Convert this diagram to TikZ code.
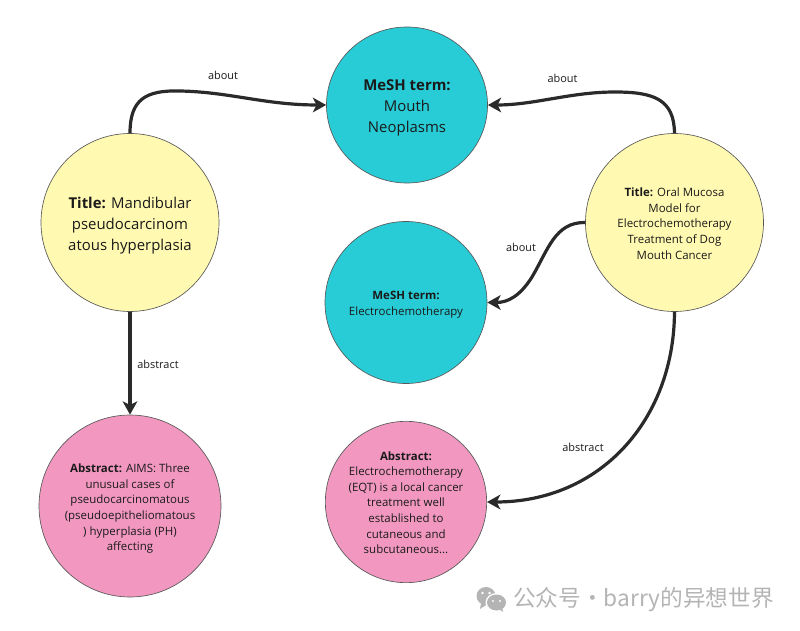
\documentclass[tikz,border=0pt]{standalone}
\usepackage{fontspec}
\setmainfont{Open Sans}
\newfontfamily\cjk{Noto Sans CJK SC}
\usetikzlibrary{arrows.meta,shapes.geometric}
\definecolor{ylw}{HTML}{FFF9B1}
\definecolor{cyn}{HTML}{28CCD6}
\definecolor{pnk}{HTML}{F298C0}
\definecolor{edge}{HTML}{2A2A2A}
\definecolor{ink}{HTML}{1A1A1A}
\definecolor{wm}{HTML}{B4B4B4}
\newcommand{\topgap}[1]{\rule{0pt}{#1pt}}
\tikzset{
  blob/.style={circle,draw=black!65,line width=0.5pt,inner sep=0pt,align=center,text=ink,font=\fontsize{8.6}{11.7}\selectfont},
  big/.style={font=\fontsize{11.2}{15.7}\selectfont},
  conn/.style={draw=edge,line width=2.4pt,-{Stealth[length=10pt,width=11pt,inset=2.8pt]}},
  lbl/.style={text=ink,font=\fontsize{8.2}{10}\selectfont,inner sep=0pt},
}
\begin{document}
\begin{tikzpicture}[x=0.75pt,y=-0.75pt]
\useasboundingbox (0,0) rectangle (800,631);
\node[blob,big,ellipse,fill=cyn,minimum width=120.75pt,minimum height=117pt] (m1) at (407,105) {\topgap{11.8}\textbf{MeSH term:}\\Mouth\\Neoplasms};
\node[blob,fill=cyn,minimum size=121.5pt] (m2) at (406,302.5) {\topgap{10}\textbf{MeSH term:}\\Electrochemotherapy};
\node[blob,big,fill=ylw,minimum size=133.5pt] (t1) at (130,222.5) {\topgap{13.3}\textbf{Title:} Mandibular\\pseudocarcinom\\atous hyperplasia};
\node[blob,fill=ylw,minimum size=133.5pt] (t2) at (674.5,222.5) {\topgap{8.2}\textbf{Title:} Oral Mucosa\\Model for\\Electrochemotherapy\\Treatment of Dog\\Mouth Cancer};
\node[blob,fill=pnk,minimum size=136.5pt] (a1) at (130,506) {\topgap{10.5}\textbf{Abstract:} AIMS: Three\\unusual cases of\\pseudocarcinomatous\\(pseudoepitheliomatous\\) hyperplasia (PH)\\affecting};
\node[blob,fill=pnk,minimum size=121pt] (a2) at (406,502) {\topgap{7.5}\textbf{Abstract:}\\Electrochemotherapy\\(EQT) is a local cancer\\treatment well\\established to\\cutaneous and\\subcutaneous...};
\draw[conn] (t1.north) .. controls (130,100) and (145,90) .. (180,91) .. controls (230,92) and (265,105) .. (m1.west);
\draw[conn] (t2.north) .. controls (674,100) and (655,92) .. (615,92) .. controls (570,92) and (535,105) .. (m1.east);
\draw[conn] (t2.west) .. controls (555,222) and (548,250) .. (532,277) .. controls (520,296) and (508,302.5) .. (m2.east);
\draw[conn] (t1.south) -- (a1.north);
\draw[conn] (t2.south) .. controls (674,420) and (600,502) .. (a2.east);
\node[lbl] (l1) at (223,75) {about};
\node[lbl] (l2) at (562.5,78) {about};
\node[lbl] (l3) at (521,247) {about};
\node[lbl] (l4) at (158,364) {abstract};
\node[lbl] (l5) at (583,447) {abstract};
\fill[wm] (486,596) ellipse (9.5 and 9);
\fill[wm] (481,603) -- (480,609) -- (487,604.5) -- cycle;
\fill[white] (496.5,602.5) ellipse (11 and 9.5);
\fill[wm] (496.5,602.5) ellipse (9.5 and 8);
\fill[wm] (499,609) -- (503,612) -- (502,607) -- cycle;
\fill[white] (482.5,593) circle (1.3) (489.5,593) circle (1.3) (493,601) circle (1.1) (500,601) circle (1.1);
\node[text=wm,inner sep=0pt,anchor=west,font=\fontsize{17}{18}\selectfont] (w) at (513,600) {\cjk 公众号·barry的异想世界};
\end{tikzpicture}
\end{document}
